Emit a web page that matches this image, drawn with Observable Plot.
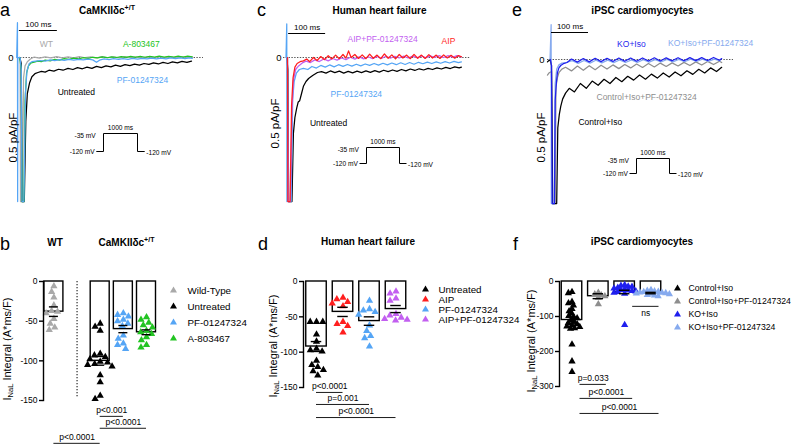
<!DOCTYPE html>
<html><head><meta charset="utf-8">
<script src="https://cdn.jsdelivr.net/npm/d3@7"></script>
<script src="https://cdn.jsdelivr.net/npm/@observablehq/plot@0.6"></script>
<style>
html,body{margin:0;padding:0;background:#fff;}
#root{position:relative;width:791px;height:444px;overflow:hidden;background:#fff;font-family:"Liberation Sans",Arial,sans-serif;color:#000;}
.lbl{position:absolute;white-space:nowrap;line-height:1;}
.ttl{font-weight:bold;font-size:10px;text-align:center;width:200px;}
.letter{font-size:18px;}
.ylab{font-size:11px;transform:translate(-50%,-50%) rotate(-90deg);}
.ylab sub{font-size:7.5px;vertical-align:baseline;position:relative;top:2px;}
.ttl sup{font-size:7px;vertical-align:baseline;position:relative;top:-4px;}
</style></head>
<body><div id="root"></div>
<script>
// ---------------- DATA ----------------
// Trace panels: [time (ms), current (pA/pF)]
const aWT = [[-4,0],[-1,-0.02],[0,-1.2],[5,-1.2],[8,-0.17],[12,-0.07],[18,-0.035],[26,-0.012],[36,0.004],[50,-0.006],[65,0.006],[80,-0.004],[95,0.008],[110,-0.003],[125,0.006],[140,-0.004],[155,0.007],[170,-0.002],[185,0.006],[200,-0.004],[215,0.007],[230,-0.002],[245,0.006],[260,-0.003],[275,0.007],[290,-0.002],[305,0.006],[320,-0.003],[335,0.006],[350,-0.002],[365,0.007],[380,-0.002],[395,0.006],[410,-0.003],[425,0.006],[440,0],[452,0.004]];
const aUntreated = [[-2,0],[2,-0.05],[4,-1.2],[10,-1.2],[14,-0.53],[18,-0.3],[24,-0.21],[30,-0.16],[38,-0.135],[46,-0.125],[55,-0.115],[65,-0.122],[75,-0.106],[88,-0.114],[100,-0.098],[112,-0.106],[125,-0.09],[138,-0.1],[150,-0.084],[163,-0.094],[175,-0.08],[188,-0.09],[200,-0.074],[213,-0.084],[225,-0.07],[238,-0.078],[250,-0.064],[263,-0.074],[275,-0.06],[288,-0.068],[300,-0.055],[313,-0.064],[325,-0.05],[338,-0.058],[350,-0.045],[363,-0.054],[375,-0.041],[388,-0.05],[400,-0.036],[413,-0.045],[425,-0.032],[438,-0.04],[450,-0.03]];
const aA803467 = [[-2,0],[2,-0.1],[4,-1.2],[9,-1.2],[12,-0.36],[16,-0.13],[21,-0.07],[28,-0.045],[36,-0.038],[45,-0.03],[55,-0.035],[65,-0.022],[78,-0.028],[90,-0.016],[103,-0.022],[115,-0.01],[128,-0.016],[140,-0.006],[153,-0.012],[165,-0.002],[178,-0.008],[190,0.002],[203,-0.004],[215,0.005],[228,-0.002],[240,0.006],[253,0],[265,0.008],[278,0.001],[290,0.009],[303,0.002],[315,0.01],[328,0.002],[340,0.009],[353,0.003],[365,0.011],[378,0.003],[390,0.01],[403,0.004],[415,0.011],[428,0.004],[440,0.011],[452,0.006]];
const aPF = [[-10,0],[-8,0.29],[-7.5,-1.2],[-7,0],[-1,0],[2,-0.1],[4,-1.2],[9,-1.2],[13,-0.3],[17,-0.11],[23,-0.05],[30,-0.035],[40,-0.03],[52,-0.025],[65,-0.03],[78,-0.02],[90,-0.026],[103,-0.018],[115,-0.024],[128,-0.016],[140,-0.022],[153,-0.015],[165,-0.02],[178,-0.014],[190,-0.02],[200,-0.04],[208,-0.022],[220,-0.012],[233,-0.018],[245,-0.01],[258,-0.016],[270,-0.009],[283,-0.015],[295,-0.008],[308,-0.014],[320,-0.007],[333,-0.012],[345,-0.006],[358,-0.012],[370,-0.005],[383,-0.011],[395,-0.004],[408,-0.01],[420,-0.004],[433,-0.009],[445,-0.003],[452,-0.007]];

const cUntreated = [[-2,0],[1,-0.1],[3,-1.2],[12,-1.2],[16,-0.63],[20,-0.5],[25,-0.42],[29,-0.37],[33,-0.36],[38,-0.3],[43,-0.24],[50,-0.2],[57,-0.175],[68,-0.15],[81,-0.125],[92,-0.118],[104,-0.13],[116,-0.112],[128,-0.126],[140,-0.114],[152,-0.13],[164,-0.116],[176,-0.128],[188,-0.114],[200,-0.126],[212,-0.112],[224,-0.124],[236,-0.11],[248,-0.122],[260,-0.106],[272,-0.118],[284,-0.104],[296,-0.116],[308,-0.1],[320,-0.112],[332,-0.096],[344,-0.108],[356,-0.094],[368,-0.104],[380,-0.09],[392,-0.1],[404,-0.086],[416,-0.096],[428,-0.082],[440,-0.092],[452,-0.078],[464,-0.086],[470,-0.08]];
const cPF = [[-4,0],[-2,0.28],[-1.5,-1.2],[-1,0],[0,0],[2,-1.2],[10,-1.2],[14,-0.35],[18,-0.2],[24,-0.13],[32,-0.1],[43,-0.09],[55,-0.1],[66,-0.075],[78,-0.088],[90,-0.066],[102,-0.08],[114,-0.062],[126,-0.078],[138,-0.06],[150,-0.074],[162,-0.058],[174,-0.072],[186,-0.056],[198,-0.07],[210,-0.054],[222,-0.066],[234,-0.05],[246,-0.064],[258,-0.048],[270,-0.062],[282,-0.046],[294,-0.06],[306,-0.044],[318,-0.058],[330,-0.042],[342,-0.056],[354,-0.04],[366,-0.052],[378,-0.038],[390,-0.05],[402,-0.036],[414,-0.048],[426,-0.034],[438,-0.046],[450,-0.032],[462,-0.042],[470,-0.036]];
const cAIPPF = [[0,0],[2,-1.2],[8,-1.2],[12,-0.45],[16,-0.19],[22,-0.1],[30,-0.07],[40,-0.045],[50,-0.03],[62,-0.042],[74,-0.02],[86,-0.034],[98,-0.012],[110,-0.028],[122,-0.008],[134,-0.022],[146,-0.004],[158,-0.018],[170,0.002],[182,-0.014],[194,0.005],[206,-0.012],[218,0.006],[230,-0.01],[242,0.008],[254,-0.008],[266,0.01],[278,-0.006],[290,0.01],[302,-0.004],[314,0.012],[326,-0.004],[338,0.012],[350,-0.002],[362,0.014],[374,-0.002],[386,0.014],[398,0],[410,0.015],[422,0],[434,0.016],[446,0.002],[458,0.016],[470,0.006]];
const cAIP = [[0,0],[1,-1.2],[7,-1.2],[11,-0.4],[15,-0.17],[20,-0.08],[26,-0.05],[34,-0.035],[43,-0.028],[52,-0.012],[60,-0.035],[70,0.0],[80,-0.025],[90,0.008],[100,-0.018],[110,0.015],[120,-0.012],[130,0.02],[140,-0.01],[150,0.025],[158,-0.005],[165,0.055],[172,0.0],[182,0.025],[192,-0.008],[202,0.022],[212,-0.01],[222,0.028],[232,-0.006],[242,0.02],[252,-0.01],[262,0.03],[272,-0.006],[282,0.022],[292,-0.012],[302,0.025],[312,-0.004],[322,0.02],[332,-0.01],[342,0.026],[352,-0.006],[362,0.02],[372,-0.008],[382,0.024],[392,-0.004],[402,0.02],[412,-0.008],[422,0.022],[432,-0.004],[442,0.018],[452,-0.006],[462,0.016],[470,0.006]];

const eControlIso = [[-11,-0.02],[-4,0],[0,-0.05],[3,-1.2],[14,-1.2],[17,-0.57],[21,-0.46],[25,-0.39],[30,-0.33],[38,-0.28],[48,-0.24],[62,-0.27],[78,-0.2],[94,-0.24],[110,-0.18],[126,-0.215],[142,-0.165],[158,-0.2],[174,-0.15],[190,-0.185],[206,-0.14],[222,-0.172],[238,-0.13],[254,-0.164],[270,-0.122],[286,-0.155],[302,-0.112],[318,-0.146],[334,-0.104],[350,-0.136],[366,-0.094],[382,-0.124],[398,-0.082],[414,-0.112],[430,-0.07],[446,-0.1],[460,-0.065]];
const eControlIsoPF = [[-11,-0.13],[-6,-0.11],[0,-0.1],[3,-1.2],[10,-1.2],[12,-0.23],[16,-0.15],[20,-0.11],[28,-0.08],[38,-0.065],[54,-0.095],[70,-0.055],[86,-0.09],[102,-0.052],[118,-0.085],[134,-0.048],[150,-0.08],[166,-0.045],[182,-0.076],[198,-0.042],[214,-0.07],[230,-0.038],[246,-0.066],[262,-0.034],[278,-0.062],[294,-0.03],[310,-0.058],[326,-0.028],[342,-0.054],[358,-0.024],[374,-0.05],[390,-0.02],[406,-0.046],[422,-0.016],[438,-0.042],[454,-0.014],[460,-0.025]];
const eKOIso = [[-3,0],[0,-0.05],[2,-1.2],[8,-1.2],[10,-0.34],[13,-0.2],[16,-0.11],[20,-0.07],[25,-0.05],[32,-0.035],[42,-0.025],[54,0.004],[70,-0.022],[86,0.008],[102,-0.02],[118,0.01],[134,-0.018],[150,0.01],[166,-0.016],[182,0.012],[198,-0.015],[214,0.012],[230,-0.014],[246,0.013],[262,-0.013],[278,0.014],[294,-0.012],[310,0.014],[326,-0.011],[342,0.015],[358,-0.01],[374,0.016],[390,-0.009],[406,0.016],[422,-0.008],[438,0.017],[454,-0.006],[460,0.008]];
const eKOIsoPF = [[-4,0],[-1,0.29],[-0.5,-1.2],[0,-1.2],[7,-1.2],[10,-0.2],[14,-0.08],[20,-0.045],[28,-0.03],[40,-0.025],[56,-0.01],[72,-0.032],[88,-0.008],[104,-0.03],[120,-0.006],[136,-0.028],[152,-0.005],[168,-0.026],[184,-0.004],[200,-0.025],[216,-0.003],[232,-0.024],[248,-0.002],[264,-0.022],[280,-0.001],[296,-0.02],[312,0],[328,-0.02],[344,0.001],[360,-0.018],[376,0.002],[392,-0.017],[408,0.002],[424,-0.016],[440,0.003],[456,-0.012]];

// Voltage protocol (ms, mV)
const protocolT = [-200, 0, 0, 1000, 1000, 1200];
const protocolV = [-120, -120, -35, -35, -120, -120];
const scaleBarMs = 100;
const scaleBarText = "0.5 pA/pF";

// Bar panel b
const bCats = ["Wild-Type", "Untreated", "PF-01247324", "A-803467"];
const bMeans = [-38, -100, -60, -64];
const bSems = [6, 5.5, 4.5, 3];
const bWT = [-6, -13, -20, -30, -37, -38, -40, -47, -53, -58, -61];
const bUntreated = [-53, -57, -62, -91, -93, -95, -98, -101, -102, -104, -105, -107, -118, -127, -144, -148];
const bPF = [-40, -42, -44, -48, -50, -53, -56, -68, -72, -78, -80, -85];
const bA = [-45, -48, -52, -55, -58, -62, -64, -66, -70, -74, -80, -83];
const bTicks = [0, -50, -100, -150];
const bTests = [
  {from: "Untreated", to: "PF-01247324", text: "p<0.001", level: -170},
  {from: "Untreated", to: "A-803467", text: "p<0.0001", level: -185},
  {from: "Wild-Type", to: "Untreated", text: "p<0.0001", level: -204}
];

// Bar panel d
const dCats = ["Untreated", "AIP", "PF-01247324", "AIP+PF-01247324"];
const dMeans = [-92, -43, -56, -39];
const dSems = [7, 6.5, 6, 5];
const dUntreated = [-57, -57, -57, -75, -85, -95, -97, -99, -112, -118, -121, -125, -127, -133];
const dAIP = [-23, -25, -29, -31, -35, -57, -60, -63, -72];
const dPF = [-27, -39, -41, -43, -47, -62, -70, -77, -80, -92];
const dAIPPF = [-14, -17, -24, -27, -46, -48, -51, -53, -54, -55];
const dTicks = [0, -50, -100, -150];
const dTests = [
  {from: "Untreated", to: "AIP", text: "p<0.0001", level: -157},
  {from: "Untreated", to: "PF-01247324", text: "p=0.001", level: -174},
  {from: "Untreated", to: "AIP+PF-01247324", text: "p<0.0001", level: -192.5}
];

// Bar panel f
const fCats = ["Control+Iso", "Control+Iso+PF-01247324", "KO+Iso", "KO+Iso+PF-01247324"];
const fMeans = [-110, -42, -30, -33];
const fSems = [9, 7, 5, 2];
const fControl = [-30, -33, -58, -62, -68, -78, -85, -92, -98, -102, -105, -110, -115, -118, -122, -125, -128, -130, -133, -135, -180, -228, -258];
const fControlPF = [-32, -36, -39, -42, -46, -65];
const fKO = [-10, -12, -14, -15, -18, -20, -22, -24, -25, -27, -28, -30, -32, -35, -124];
const fKOPF = [-24, -26, -28, -29, -30, -31, -32, -33, -34, -35, -36, -38, -40, -42];
const fTicks = [0, -100, -200, -300];
const fTests = [
  {from: "Control+Iso", to: "Control+Iso+PF-01247324", text: "p=0.033", level: -294},
  {from: "Control+Iso", to: "KO+Iso", text: "p<0.0001", level: -334},
  {from: "Control+Iso", to: "KO+Iso+PF-01247324", text: "p<0.0001", level: -377},
  {from: "KO+Iso", to: "KO+Iso+PF-01247324", text: "ns", level: -71, below: true}
];

// ---------------- STYLE / LAYOUT ----------------
const W = 791, H = 444;
const FONT = '"Liberation Sans", Arial, sans-serif';
const C = {
  grey: "#a9a9a9", black: "#000000", pf: "#55a5f5", green: "#22c422",
  red: "#ff1e1e", purple: "#c25ff0", ko: "#1f1fee", koPF: "#86aaee", ctrlPF: "#8e8e8e"
};
const root = document.getElementById("root");

function overlay(frame, spec) {
  const [l, t, r, b] = frame;
  const svg = Plot.plot({
    width: W, height: H,
    marginLeft: l, marginTop: t, marginRight: W - r, marginBottom: H - b,
    ...spec,
    style: {position: "absolute", left: "0px", top: "0px", background: "transparent",
            overflow: "visible", fontFamily: FONT, fontSize: "9px"}
  });
  root.appendChild(svg);
  return svg;
}

// ---------------- TRACE PANELS ----------------
const floorI = -1.2, pxPerUnit = 120;
function tracePanel(p) {
  overlay(p.frame, {
    x: {domain: [0, scaleBarMs], range: [p.x0, p.x0 + scaleBarMs * p.k], axis: null},
    y: {domain: [floorI, 0], range: [p.y0 - floorI * pxPerUnit, p.y0]},
    marks: [
      Plot.ruleY([0], {stroke: "#444", strokeDasharray: "1.4,1.4", strokeWidth: 0.9}),
      Plot.axisY({ticks: [0], tickSize: 0, tickPadding: p.tickPad, tickFormat: d => String(d), label: null, fontSize: 9.5}),
      ...p.traces.map(tr => Plot.line(tr.data, {x: d => d[0], y: d => d[1], stroke: tr.color, strokeWidth: 1.25})),
      Plot.ruleY([p.bar], {y: "level", x1: "t0", x2: d => d.t0 + scaleBarMs, stroke: "black", strokeWidth: 1}),
      Plot.text([p.bar], {x: d => d.t0 + scaleBarMs / 2, y: "level", text: () => `${scaleBarMs} ms`, dy: -6, fontSize: 8}),
      ...p.labels.map(l => Plot.text([l], {x: "t", y: "v", text: "text", fill: l.color, fontSize: 8.5})),
      Plot.text([p.unit], {x: "t", y: "v", text: () => scaleBarText, rotate: -90, fontSize: 11.5})
    ]
  });
}
function protocolInset(xr, yr) {
  const pts = protocolT.map((t, i) => ({t, v: protocolV[i]}));
  const first = pts[0], last = pts[pts.length - 1];
  const test = protocolV[2];
  overlay([0, 0, W, H], {
    x: {domain: [0, 1000], range: xr, axis: null},
    y: {domain: [protocolV[0], test], range: yr, axis: null},
    marks: [
      Plot.line(pts, {x: "t", y: "v", stroke: "black", strokeWidth: 1}),
      Plot.text([first], {x: "t", y: () => test, text: () => `${test} mV`, textAnchor: "end", dx: -1, dy: 2, fontSize: 6.6}),
      Plot.text([first], {x: "t", y: "v", text: d => `${d.v} mV`, textAnchor: "end", dx: -2, fontSize: 6.6}),
      Plot.text([last], {x: "t", y: "v", text: d => `${d.v} mV`, textAnchor: "start", dx: 2, dy: 1, fontSize: 6.6}),
      Plot.text([pts[3]], {x: () => (pts[2].t + pts[3].t) / 2, y: "v", text: () => `${pts[3].t - pts[2].t} ms`, dy: -6, fontSize: 6.6})
    ]
  });
}

tracePanel({
  frame: [20, 18, 203, 202], x0: 20, k: 0.38, y0: 57, tickPad: 7,
  traces: [
    {data: aWT, color: C.grey}, {data: aUntreated, color: C.black},
    {data: aA803467, color: C.green}, {data: aPF, color: C.pf}
  ],
  bar: {t0: -3, level: 0.225},
  labels: [
    {text: "WT", t: 68, v: 0.108, color: C.grey},
    {text: "A-803467", t: 318, v: 0.108, color: C.green},
    {text: "PF-01247324", t: 321, v: -0.19, color: C.pf},
    {text: "Untreated", t: 147, v: -0.29, color: C.black}
  ],
  unit: {t: -18, v: -0.667}
});
protocolInset([103, 137], [151, 133]);

tracePanel({
  frame: [283, 18, 470, 202], x0: 287, k: 0.37, y0: 57, tickPad: 2,
  traces: [
    {data: cUntreated, color: C.black}, {data: cPF, color: C.pf},
    {data: cAIPPF, color: C.purple}, {data: cAIP, color: C.red}
  ],
  bar: {t0: 3, level: 0.2},
  labels: [
    {text: "AIP+PF-01247324", t: 257, v: 0.15, color: C.purple},
    {text: "AIP", t: 435, v: 0.133, color: C.red},
    {text: "PF-01247324", t: 186, v: -0.308, color: C.pf},
    {text: "Untreated", t: 111, v: -0.55, color: C.black}
  ],
  unit: {t: -32, v: -0.55}
});
protocolInset([366, 399], [163, 147]);

tracePanel({
  frame: [547, 18, 733, 203], x0: 551, k: 0.37, y0: 59, tickPad: 3,
  traces: [
    {data: eControlIsoPF, color: C.ctrlPF}, {data: eControlIso, color: C.black},
    {data: eKOIsoPF, color: C.koPF}, {data: eKOIso, color: C.ko}
  ],
  bar: {t0: 0, level: 0.225},
  labels: [
    {text: "KO+Iso", t: 216, v: 0.125, color: C.ko},
    {text: "KO+Iso+PF-01247324", t: 430, v: 0.133, color: C.koPF},
    {text: "Control+Iso+PF-01247324", t: 257, v: -0.317, color: C.ctrlPF},
    {text: "Control+Iso", t: 132, v: -0.525, color: C.black}
  ],
  unit: {t: -27, v: -0.65}
});
protocolInset([636, 669], [173, 158]);

// ---------------- BAR PANELS ----------------
function barPanel(p) {
  const n = p.domain.length;
  const step = (p.cLast - p.c0) / (n - 1);
  const padIn = 1 - p.bw / step;
  const rows = p.cats.map((c, i) => ({cat: c, mean: p.means[i], sem: p.sems[i]}));
  const pts = p.cats.flatMap((c, i) => p.points[i].map(v => ({cat: c, v})));
  const [y0px, ylow] = p.yRange;
  overlay([p.c0 - step / 2, y0px, p.cLast + step / 2, ylow], {
    fx: {domain: p.domain, range: [p.c0 - step / 2, p.cLast + step / 2], paddingInner: padIn, paddingOuter: padIn / 2, round: false, axis: null},
    y: {domain: p.yDomain, range: [ylow, y0px], axis: null},
    color: {domain: p.cats, range: p.colors},
    marks: [
      Plot.barY(rows, {fx: "cat", y1: 0, y2: "mean", fill: "white", stroke: "black", strokeWidth: 1.4}),
      Plot.dot(pts, Plot.dodgeX({anchor: "middle", padding: p.dodgePad}, {fx: "cat", y: "v", r: 2.7, symbol: "triangle", fill: "cat"})),
      Plot.ruleX(rows, {fx: "cat", y1: d => d.mean - d.sem, y2: d => d.mean + d.sem, strokeWidth: 1.4}),
      Plot.tickY(rows, {fx: "cat", y: d => d.mean - d.sem, insetLeft: 5, insetRight: 5, strokeWidth: 1.4}),
      Plot.tickY(rows, {fx: "cat", y: d => d.mean + d.sem, insetLeft: 5, insetRight: 5, strokeWidth: 1.4})
    ]
  });
  const ix = name => p.domain.indexOf(name);
  const above = p.tests.filter(d => !d.below), below = p.tests.filter(d => d.below);
  overlay([p.axisX, y0px, p.cLast + step / 2, ylow], {
    x: {domain: [0, n - 1], range: [p.c0, p.cLast], axis: null},
    y: {domain: p.yDomain, range: [ylow, y0px]},
    marks: [
      Plot.frame({anchor: "left", strokeWidth: 1.4}),
      Plot.axisY({ticks: p.ticks, tickFormat: d => String(d), tickSize: 4, tickPadding: 2, label: null, fontSize: 8.5, strokeWidth: 1.4}),
      ...(p.spacer ? [Plot.ruleX([ix(p.spacer)], {y1: 0, y2: p.yDomain[0] + 3, strokeDasharray: "1.3,1.7", strokeWidth: 1})] : []),
      Plot.ruleY(p.tests, {y: "level", x1: d => ix(d.from), x2: d => ix(d.to), dx: p.dx || 0, strokeWidth: 0.9}),
      Plot.text(above, {x: d => (ix(d.from) + ix(d.to)) / 2, y: "level", text: "text", dy: -6, dx: p.dx || 0, fontSize: 8.5}),
      Plot.text(below, {x: d => (ix(d.from) + ix(d.to)) / 2, y: "level", text: "text", dy: 7, dx: p.dx || 0, fontSize: 8.5})
    ]
  });
  overlay([p.legend.x, 0, p.legend.x + 120, H], {
    y: {type: "point", domain: p.cats, range: p.legend.rows, padding: 0, axis: null},
    color: {domain: p.cats, range: p.colors},
    marks: [
      Plot.dot(p.cats, {y: d => d, fill: d => d, symbol: "triangle", r: 2.6, frameAnchor: "left"}),
      Plot.text(p.cats, {y: d => d, text: d => d, frameAnchor: "left", textAnchor: "start", dx: p.legend.dx, fontSize: p.legend.size})
    ]
  });
}

barPanel({
  cats: bCats, domain: ["Wild-Type", " ", "Untreated", "PF-01247324", "A-803467"], spacer: " ",
  colors: [C.grey, C.black, C.pf, C.green],
  means: bMeans, sems: bSems, points: [bWT, bUntreated, bPF, bA],
  c0: 53.4, cLast: 146, bw: 19, axisX: 43, dodgePad: 0.6,
  yDomain: [-150, 0], yRange: [281, 400], ticks: bTicks, tests: bTests,
  legend: {x: 173, rows: [289, 338], dx: 14, size: 9.8}
});
barPanel({
  cats: dCats, domain: dCats,
  colors: [C.black, C.red, C.pf, C.purple],
  means: dMeans, sems: dSems, points: [dUntreated, dAIP, dPF, dAIPPF],
  c0: 316, cLast: 395.5, bw: 20.5, axisX: 303, dodgePad: 0.9,
  yDomain: [-150, 0], yRange: [281, 387], ticks: dTicks, tests: dTests,
  legend: {x: 425, rows: [288, 320], dx: 13, size: 9.8}
});
barPanel({
  cats: fCats, domain: fCats,
  colors: [C.black, C.ctrlPF, C.ko, C.koPF],
  means: fMeans, sems: fSems, points: [fControl, fControlPF, fKO, fKOPF],
  c0: 571.5, cLast: 650.5, bw: 20.5, axisX: 559, dx: 8, dodgePad: -1.6,
  yDomain: [-300, 0], yRange: [281, 386], ticks: fTicks, tests: fTests,
  legend: {x: 677, rows: [287, 327], dx: 11, size: 8.7}
});

// ---------------- HTML TEXT ----------------
const camk = 'CaMKIIδc<sup>+/T</sup>';
const texts = [
  {cls: "letter", html: "a", left: 0, top: 1},
  {cls: "letter", html: "c", left: 257, top: 1},
  {cls: "letter", html: "e", left: 512, top: 1},
  {cls: "letter", html: "b", left: 0, top: 235},
  {cls: "letter", html: "d", left: 258, top: 235},
  {cls: "letter", html: "f", left: 513, top: 235},
  {cls: "ttl", html: camk, left: 107 - 100, top: 6},
  {cls: "ttl", html: "Human heart failure", left: 379.5 - 100, top: 6},
  {cls: "ttl", html: "iPSC cardiomyocytes", left: 642.5 - 100, top: 6},
  {cls: "ttl", html: "WT", left: 55 - 100, top: 238},
  {cls: "ttl", html: camk, left: 126.5 - 100, top: 238},
  {cls: "ttl", html: "Human heart failure", left: 368 - 100, top: 237},
  {cls: "ttl", html: "iPSC cardiomyocytes", left: 642 - 100, top: 237},
  {cls: "ylab", html: "I<sub>NaL</sub> Integral (A*ms/F)", left: 7, top: 349},
  {cls: "ylab", html: "I<sub>NaL</sub> Integral (A*ms/F)", left: 273, top: 346},
  {cls: "ylab", html: "I<sub>NaL</sub> Integral (A*ms/F)", left: 531, top: 341}
];
for (const t of texts) {
  const d = document.createElement("div");
  d.className = "lbl " + t.cls;
  d.innerHTML = t.html;
  d.style.left = t.left + "px";
  d.style.top = t.top + "px";
  root.appendChild(d);
}
</script></body></html>
